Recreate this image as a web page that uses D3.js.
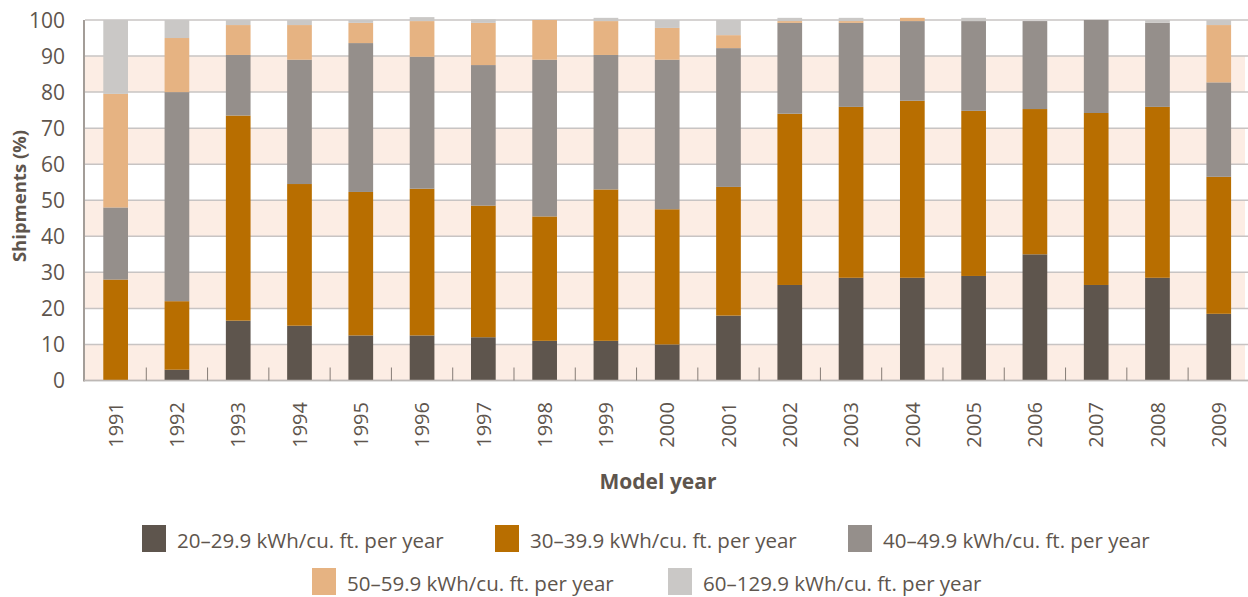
<!DOCTYPE html>
<html lang="en">
<head>
  <meta charset="UTF-8" />
  <title>Shipments by energy use</title>
  <script src="https://d3js.org/d3.v7.min.js"></script>
  <style>
    body { margin: 0; background: #fff; }
    svg { display: block; font-family: "Open Sans", sans-serif; }
  </style>
</head>
<body>
  <svg id="chart" width="1248" height="597"></svg>

  <script>
    const years = ['1991','1992','1993','1994','1995','1996','1997','1998','1999','2000',
                   '2001','2002','2003','2004','2005','2006','2007','2008','2009'];
    const s20 = [0, 3, 16.6, 15.2, 12.5, 12.5, 12, 11, 11, 10, 18, 26.5, 28.5, 28.5, 29, 35, 26.5, 28.5, 18.5];
    const s30 = [28, 19, 56.9, 39.3, 39.8, 40.7, 36.5, 34.5, 42, 37.5, 35.7, 47.5, 47.4, 49.1, 45.8, 40.3, 47.7, 47.4, 38];
    const s40 = [20, 58, 16.8, 34.5, 41.3, 36.6, 39, 43.5, 37.3, 41.5, 38.5, 25.2, 23.3, 22.1, 24.9, 24.4, 25.8, 23.3, 26.2];
    const s50 = [31.5, 15, 8.3, 9.6, 5.6, 9.9, 11.7, 11, 9.4, 8.8, 3.6, 0.5, 0.5, 0.9, 0, 0, 0, 0, 15.9];
    const s60 = [20.5, 5, 1.4, 1.4, 0.8, 1.1, 1, 0, 0.9, 2.2, 4.2, 0.9, 0.9, 0, 0.9, 0, 0, 0.8, 1.4];
    const seriesNames = ['20–29.9 kWh/cu. ft. per year', '30–39.9 kWh/cu. ft. per year',
                         '40–49.9 kWh/cu. ft. per year', '50–59.9 kWh/cu. ft. per year',
                         '60–129.9 kWh/cu. ft. per year'];
    const colors = ['#5e554d', '#b86e00', '#958f8b', '#e6b382', '#cac8c6'];
    const yTicks = [0, 10, 20, 30, 40, 50, 60, 70, 80, 90, 100];

    const textColor = '#5e554d';
    const svg = d3.select('#chart');
    const plotLeft = 85, plotRight = 1249.4, plotTop = 20, plotBottom = 380.5;

    const x = d3.scaleBand().domain(years).range([plotLeft, plotRight]);
    const y = d3.scaleLinear().domain([0, 100]).range([plotBottom, plotTop]);
    const barW = x.bandwidth() * 0.403;

    // pale bands
    svg.append('g').selectAll('rect')
      .data([0, 20, 40, 60, 80])
      .join('rect')
      .attr('x', plotLeft)
      .attr('width', 1245 - plotLeft)
      .attr('y', d => y(d + 10))
      .attr('height', d => y(d) - y(d + 10))
      .attr('fill', '#fcede4');

    // grid lines
    svg.append('g').selectAll('line')
      .data(yTicks)
      .join('line')
      .attr('x1', plotLeft).attr('x2', 1248)
      .attr('y1', d => y(d)).attr('y2', d => y(d))
      .attr('stroke', '#c8c4c3')
      .attr('stroke-width', 1.5);

    // stacked bars
    const rows = years.map((yr, i) => ({ year: yr, a: s20[i], b: s30[i], c: s40[i], d: s50[i], e: s60[i] }));
    const keys = ['a', 'b', 'c', 'd', 'e'];
    const stacked = d3.stack().keys(keys)(rows);

    svg.append('g').selectAll('g')
      .data(stacked)
      .join('g')
      .attr('fill', (d, i) => colors[i])
      .selectAll('rect')
      .data(d => d)
      .join('rect')
      .attr('x', d => x(d.data.year) + (x.bandwidth() - barW) / 2)
      .attr('width', barW)
      .attr('y', d => y(d[1]))
      .attr('height', d => Math.max(0, y(d[0]) - y(d[1])));

    // axes lines
    svg.append('line')
      .attr('x1', 84).attr('x2', 84).attr('y1', plotTop).attr('y2', plotBottom + 1)
      .attr('stroke', '#857c76').attr('stroke-width', 1.5);
    svg.append('line')
      .attr('x1', 84).attr('x2', 1248).attr('y1', plotBottom).attr('y2', plotBottom)
      .attr('stroke', '#bdb8b5').attr('stroke-width', 1.5);

    // inner ticks between categories
    svg.append('g').selectAll('line')
      .data(years.slice(1))
      .join('line')
      .attr('x1', d => x(d)).attr('x2', d => x(d))
      .attr('y1', plotBottom - 13).attr('y2', plotBottom)
      .attr('stroke', '#857c76').attr('stroke-width', 1);

    // y tick labels
    svg.append('g').selectAll('text')
      .data(yTicks)
      .join('text')
      .attr('x', 65)
      .attr('y', d => y(d))
      .attr('dy', '0.36em')
      .attr('text-anchor', 'end')
      .attr('font-size', 21)
      .attr('fill', textColor)
      .text(d => d);

    // x tick labels
    svg.append('g').selectAll('text')
      .data(years)
      .join('text')
      .attr('transform', d => `translate(${x(d) + x.bandwidth() / 2},402) rotate(-90)`)
      .attr('dy', '0.36em')
      .attr('text-anchor', 'end')
      .attr('font-size', 20)
      .attr('fill', textColor)
      .text(d => d);

    // axis titles
    svg.append('text')
      .attr('transform', 'translate(26,196) rotate(-90)')
      .attr('text-anchor', 'middle')
      .attr('font-size', 18.5)
      .attr('font-weight', 'bold')
      .attr('fill', textColor)
      .text('Shipments (%)');

    svg.append('text')
      .attr('x', 658).attr('y', 489)
      .attr('text-anchor', 'middle')
      .attr('font-size', 21)
      .attr('font-weight', 'bold')
      .attr('fill', textColor)
      .text('Model year');

    // legend
    const legendPos = [[142, 525], [495, 525], [848, 525], [312, 568], [668, 568]];
    const legend = svg.append('g').selectAll('g')
      .data(seriesNames)
      .join('g')
      .attr('transform', (d, i) => `translate(${legendPos[i][0]},${legendPos[i][1]})`);
    legend.append('rect')
      .attr('width', 24).attr('height', 27)
      .attr('fill', (d, i) => colors[i]);
    legend.append('text')
      .attr('x', 35).attr('y', 23)
      .attr('font-size', 20.5)
      .attr('fill', textColor)
      .text(d => d);
  </script>
</body>
</html>
